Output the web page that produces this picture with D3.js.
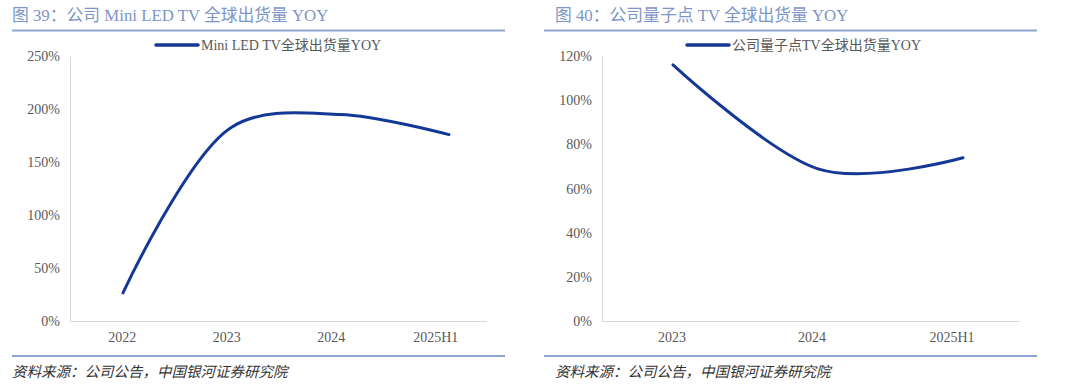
<!DOCTYPE html>
<html>
<head>
<meta charset="utf-8">
<script src="https://cdn.jsdelivr.net/npm/d3@7"></script>
<style>
  html, body { margin: 0; padding: 0; background: #fff; }
  svg { display: block; }
  text { font-family: "Liberation Serif", "DejaVu Serif", "Noto Sans CJK SC", serif; }
</style>
</head>
<body>
<svg id="chart" width="1080" height="387"></svg>
<script>
// left panel data
const leftCats = ['2022', '2023', '2024', '2025H1'];
const leftVals = [27, 183, 195, 176];
const leftTicks = [0, 50, 100, 150, 200, 250];

// right panel data
const rightCats = ['2023', '2024', '2025H1'];
const rightVals = [116, 69, 74];
const rightTicks = [0, 20, 40, 60, 80, 100, 120];

const titles = ['图 39：公司 Mini LED TV 全球出货量 YOY', '图 40：公司量子点 TV 全球出货量 YOY'];
const legends = ['Mini LED TV全球出货量YOY', '公司量子点TV全球出货量YOY'];
const source = '资料来源：公司公告，中国银河证券研究院';

const svg = d3.select('#chart');
const ruleColor = '#8fa4cf';
const lineColor = '#143896';
const textColor = '#595959';

function panel(opt) {
  const g = svg.append('g');

  // title + rules
  g.append('text')
    .attr('x', opt.left).attr('y', 21)
    .attr('font-size', 16.8).attr('fill', '#7d95c7')
    .text(opt.title);
  g.append('line')
    .attr('x1', opt.ruleX0).attr('x2', opt.ruleX1)
    .attr('y1', 30.5).attr('y2', 30.5)
    .attr('stroke', ruleColor).attr('stroke-width', 2);
  g.append('line')
    .attr('x1', opt.ruleX0).attr('x2', opt.ruleX1)
    .attr('y1', 356).attr('y2', 356)
    .attr('stroke', ruleColor).attr('stroke-width', 2);
  g.append('text')
    .attr('x', opt.left).attr('y', 377)
    .attr('font-size', 14.5).attr('font-style', 'italic').attr('fill', '#333')
    .text(source);

  // scales
  const y = d3.scaleLinear().domain([0, d3.max(opt.ticks)]).range([321.5, 56]);
  const xBand = d3.scaleBand().domain(opt.cats).range([opt.x0, opt.x1]);
  const xPt = d3.scalePoint().domain(opt.cats).range(opt.lineRange);

  // y axis
  const yAxis = g.append('g')
    .attr('transform', `translate(${opt.x0},0)`)
    .call(d3.axisLeft(y).tickValues(opt.ticks).tickSize(0).tickPadding(10).tickFormat(d => d + '%'));
  yAxis.select('.domain').attr('stroke', '#d9d9d9');
  yAxis.selectAll('text').attr('font-size', 14).attr('fill', textColor)
    .attr('font-family', '"Liberation Serif", serif');

  // x axis
  const xAxis = g.append('g')
    .attr('transform', `translate(0,${y(0)})`)
    .call(d3.axisBottom(xBand).tickSize(0).tickPadding(11));
  xAxis.select('.domain').attr('stroke', '#d9d9d9').attr('d', `M${opt.x0},0H${opt.axisEnd}`);
  xAxis.selectAll('text').attr('font-size', 14).attr('fill', textColor)
    .attr('font-family', '"Liberation Serif", serif');

  // line
  const line = d3.line()
    .x((d, i) => xPt(opt.cats[i]))
    .y(d => y(d))
    .curve(opt.curve);
  g.append('path')
    .datum(opt.vals)
    .attr('d', line)
    .attr('fill', 'none')
    .attr('stroke', lineColor)
    .attr('stroke-width', 3)
    .attr('stroke-linecap', 'round');

  // legend
  g.append('line')
    .attr('x1', opt.legX).attr('x2', opt.legX + 42)
    .attr('y1', 45).attr('y2', 45)
    .attr('stroke', lineColor).attr('stroke-width', 3.5)
    .attr('stroke-linecap', 'round');
  g.append('text')
    .attr('x', opt.legX + 45).attr('y', 50)
    .attr('font-size', 14).attr('fill', textColor)
    .text(opt.legend);
}

panel({
  title: titles[0], legend: legends[0], left: 12, ruleX0: 12, ruleX1: 505,
  cats: leftCats, vals: leftVals, ticks: leftTicks, curve: d3.curveCatmullRom.alpha(0.5),
  x0: 70, x1: 488, axisEnd: 487, lineRange: [123, 449], legX: 156
});

panel({
  title: titles[1], legend: legends[1], left: 555, ruleX0: 544, ruleX1: 1037,
  cats: rightCats, vals: rightVals, ticks: rightTicks, curve: d3.curveCardinal.tension(0),
  x0: 602, x1: 1022, axisEnd: 1020, lineRange: [673, 963], legX: 687
});
</script>
</body>
</html>
